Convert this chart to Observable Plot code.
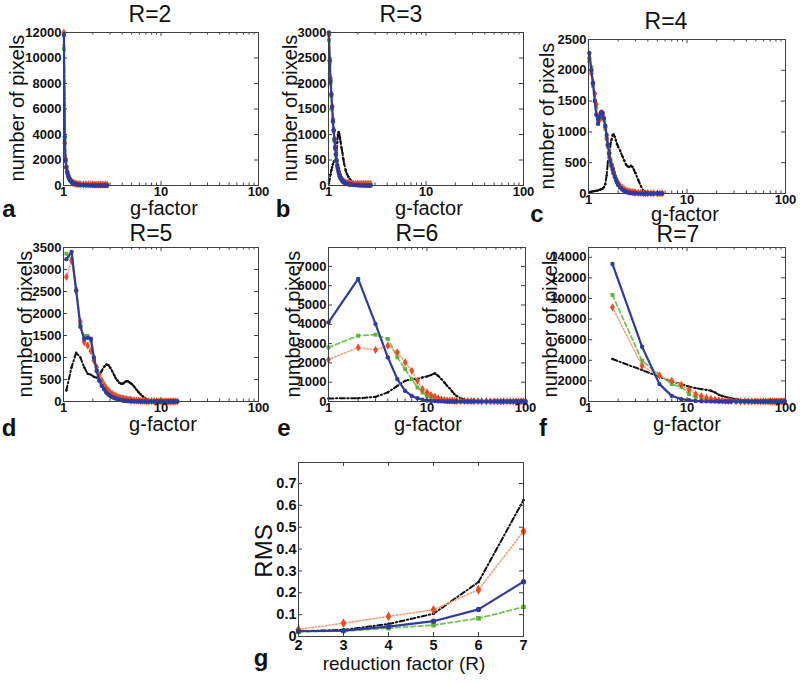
<!DOCTYPE html>
<html>
<head>
<meta charset="utf-8">
<script src="https://cdn.jsdelivr.net/npm/d3@7"></script>
<script src="https://cdn.jsdelivr.net/npm/@observablehq/plot@0.6"></script>
<style>
html,body{margin:0;padding:0;background:#fff;}
#wrap{position:relative;width:800px;height:682px;overflow:hidden;background:#fff;font-family:"Liberation Sans",Arial,Helvetica,sans-serif;color:#111;}
#wrap svg{position:absolute;}
.t{position:absolute;white-space:nowrap;line-height:0.85;color:#111;}
</style>
</head>
<body>
<div id="wrap"></div>
<script>
// ---------------- DATA ----------------
// R=2
const x2 = [1.01,1.03,1.05,1.07,1.09,1.11,1.13,1.15,1.17,1.19,1.22,1.25,1.28,1.31,1.35,1.4,1.45,1.5,1.6,1.7,1.8,1.9,2.0,2.1,2.2,2.3,2.4,2.5,2.6,2.7,2.8];
const black2 = [11000,3600,1900,1380,1030,830,640,510,410,340,260,200,160,130,100,80,60,45,30,20,14,9,6,4,2,1,1,0,0,0,0];
const green2 = [10700,3500,2000,1450,1080,860,660,530,430,350,270,215,175,145,115,90,70,55,40,30,22,16,11,8,5,3,2,1,1,0,0];
const red2 = [12000,3300,2100,1500,1100,880,680,540,440,360,280,220,180,150,125,110,100,95,90,85,85,80,80,75,75,70,70,65,65,60,60];
const blue2 = [11800,3800,1950,1400,1050,850,650,520,420,350,270,210,170,140,110,85,65,50,35,25,18,12,8,5,3,2,1,1,0,0,0];
// R=3
const x3 = [1.01,1.03,1.05,1.07,1.09,1.11,1.13,1.15,1.17,1.19,1.21,1.23,1.25,1.27,1.29,1.31,1.33,1.36,1.39,1.42,1.45,1.5,1.55,1.6,1.65,1.7,1.8,1.9,2.0,2.1,2.2,2.3,2.4,2.5,2.6,2.7];
const black3 = [40,130,220,300,360,420,460,480,490,520,650,850,1000,1050,1010,940,860,740,640,520,420,300,220,170,130,95,55,30,18,10,6,3,2,1,0,0];
const green3 = [2850,2400,2000,1750,1500,1250,1060,880,720,590,470,380,320,260,210,170,140,110,90,75,60,45,35,28,22,17,12,8,6,4,3,2,1,0,0,0];
const red3 = [2950,2450,2100,1800,1560,1300,1100,920,760,620,500,400,335,275,225,185,155,125,100,85,70,58,50,45,42,40,38,36,35,34,33,32,32,31,30,30];
const blue3 = [3000,2450,2050,1780,1540,1260,1080,900,740,610,490,390,330,270,220,180,150,120,95,80,65,50,40,32,25,20,14,10,7,5,3,2,1,1,0,0];
// R=4
const x4 = [1.02,1.07,1.11,1.16,1.2,1.25,1.3,1.34,1.39,1.43,1.48,1.53,1.57,1.62,1.66,1.71,1.76,1.8,1.85,1.9,1.95,2.0,2.1,2.2,2.3,2.4,2.5,2.6,2.7,2.8,2.9,3.0,3.2,3.4,3.6,3.8,4.0,4.3,4.6,5.0,5.3,5.6];
const black4 = [20,30,35,40,45,50,60,70,80,100,150,300,500,650,760,870,950,960,920,860,800,760,690,610,540,470,440,430,450,430,380,330,220,120,50,15,5,0,0,0,0,0];
const green4 = [2150,2050,1750,1500,1400,1200,1220,1290,1280,1200,1050,880,760,640,540,460,390,330,270,225,185,150,105,75,52,36,26,18,13,9,7,5,3,2,1,1,0,0,0,0,0,0];
const red4 = [2200,1950,1800,1620,1450,1250,1200,1310,1300,1230,1080,900,780,660,560,480,410,350,290,240,200,165,120,90,65,50,40,32,26,22,18,15,12,10,8,6,5,4,3,2,2,1];
const blue4 = [2280,2000,1790,1500,1280,1130,1250,1320,1310,1220,1100,950,800,650,530,450,390,330,270,220,180,140,95,65,45,30,20,14,10,7,5,4,2,1,1,0,0,0,0,0,0,0];
// R=5
const x5 = [1.07,1.21,1.35,1.49,1.63,1.77,1.91,2.05,2.19,2.33,2.47,2.61,2.75,2.89,3.03,3.17,3.31,3.45,3.59,3.73,3.87,4.01,4.15,4.29,4.43,4.57,4.71,4.85,5.0,5.3,5.6,5.9,6.2,6.5,6.8,7.1,7.5,8.0,8.5,9.0,9.5,10,10.5,11,11.5,12,12.5,13,13.5,14,14.7];
const black5 = [250,780,1110,1000,780,630,610,560,540,600,700,790,840,830,760,680,600,520,470,430,410,400,420,450,460,460,440,420,400,340,270,210,160,120,80,50,25,10,5,3,1,0,0,0,0,0,0,0,0,0,0];
const green5 = [3360,3240,2550,1760,1490,1490,1380,960,690,480,360,280,210,165,130,105,88,72,58,47,38,31,25,20,16,13,10,8,6,5,4,3,2,2,1,1,0,0,0,0,0,0,0,0,0,0,0,0,0,0,0];
const red5 = [2830,3200,2520,1820,1350,1270,1150,930,780,600,480,380,300,245,200,165,140,120,100,88,76,68,60,54,48,44,40,36,33,28,24,20,17,15,13,11,9,7,6,5,4,4,3,3,2,2,2,1,1,1,1];
const blue5 = [3235,3400,2515,1700,1420,1450,1430,1000,700,470,356,280,205,160,125,100,85,70,55,45,36,30,25,20,16,13,11,9,7,5,4,3,2,2,1,1,1,0,0,0,0,0,0,0,0,0,0,0,0,0,0];
// R=6
const x6 = [1,2,3,4,5,6,7,8,9,10,11,12,13,14,15,16,17,18,19,20,22,24,26,28,30,33,36,40,44,48,52,56,60,65,70,75,80,85,90,95,100];
const black6 = [160,170,240,470,810,1070,1160,1160,1250,1300,1370,1460,1330,1160,990,810,680,520,380,290,170,110,70,40,35,20,12,5,2,0,0,0,0,0,0,0,0,0,0,0,0];
const green6 = [2800,3410,3460,3240,2290,1680,1160,730,470,290,180,120,80,50,30,20,14,10,7,5,3,2,1,1,0,0,0,0,0,0,0,0,0,0,0,0,0,0,0,0,0];
const red6 = [2170,2800,2670,2890,2550,2030,1590,1070,640,470,330,240,160,110,75,55,45,40,35,30,28,25,22,20,18,15,12,10,8,6,5,4,3,3,2,2,1,1,1,1,1];
const blue6 = [4100,6350,4020,2290,1160,550,290,170,90,50,30,20,12,8,5,3,2,1,1,0,0,0,0,0,0,0,0,0,0,0,0,0,0,0,0,0,0,0,0,0,0];
// R=7
const x7 = [1.75,3.5,5.25,7,8.75,10.5,12.25,14,15.75,17.5,19.25,21,22.75,24.5,26.25,28,31.5,35,38.5,42,45.5,49,52.5,56,59.5,63,66.5,70,73.5,77,80.5,84,87.5,91,94.5,98];
const black7 = [4120,3050,2400,1940,1690,1430,1300,1200,1130,1040,880,650,550,450,380,320,230,160,120,95,70,50,32,20,12,8,4,2,1,0,0,0,0,0,0,0];
const green7 = [10340,3950,2590,1690,1430,710,450,290,200,130,90,60,45,30,22,15,10,5,3,1,0,0,0,0,0,0,0,0,0,0,0,0,0,0,0,0];
const red7 = [9140,3470,2500,2010,1620,1130,710,520,360,260,180,130,100,70,55,40,30,20,15,10,8,6,5,4,3,3,2,2,2,2,1,1,1,1,1,1];
const blue7 = [13350,5310,1690,550,230,130,60,30,15,8,4,2,1,0,0,0,0,0,0,0,0,0,0,0,0,0,0,0,0,0,0,0,0,0,0,0];
// RMS vs reduction factor
const rFactor = [2,3,4,5,6,7];
const rmsBlack = [0.024,0.030,0.057,0.104,0.249,0.624];
const rmsGreen = [0.022,0.025,0.038,0.052,0.083,0.135];
const rmsRed = [0.032,0.061,0.092,0.122,0.214,0.481];
const rmsBlue = [0.024,0.027,0.045,0.070,0.124,0.251];
// ticks
const logMajor = [1,10,100];
const logMinor = [2,3,4,5,6,7,8,9,20,30,40,50,60,70,80,90];
const yTicks2 = [0,2000,4000,6000,8000,10000,12000];
const yTicks3 = [0,500,1000,1500,2000,2500,3000];
const yTicks4 = [0,500,1000,1500,2000,2500];
const yTicks5 = [0,500,1000,1500,2000,2500,3000,3500];
const yTicks6 = [0,1000,2000,3000,4000,5000,6000,7000];
const yTicks7 = [0,2000,4000,6000,8000,10000,12000,14000];
const rmsTicks = [0,0.1,0.2,0.3,0.4,0.5,0.6,0.7];
const titles = ["R=2","R=3","R=4","R=5","R=6","R=7"];
const letters = ["a","b","c","d","e","f","g"];

// ---------------- DRAW ----------------
const FONT = '"Liberation Sans", Arial, Helvetica, sans-serif';
const wrap = document.getElementById("wrap");
const STY = {
  black: {line:"#111111", dash:"5,2.5,1.3,2.5", width:2, mark:"#111111", symbol:"circle", r:1.2},
  green: {line:"#74c453", dash:"4.5,3", width:1.8, mark:"#5cb53a", symbol:"square", r:2.2},
  red:   {line:"#f3a07c", dash:"1.4,2", width:1.6, mark:"#ec4a22", symbol:"diamond", r:2.5},
  blue:  {line:"#2f3c9e", dash:null, width:2.2, mark:"#2f3c9e", symbol:"circle", r:2.2}
};
const FRAME = "#404040";

function panel(cfg) {
  const [x0, x1, y0, y1] = cfg.box;
  const mL = 60, mR = 20, mT = 12, mB = 26;
  const iw = x1 - x0, ih = y1 - y0;
  const marks = [];
  for (const key of ["black","green","red","blue"]) {
    const ys = cfg.series[key];
    const rows = cfg.xs.map((x, i) => ({x, y: ys[i]}));
    const s = STY[key];
    const lo = {x:"x", y:"y", stroke:s.line, strokeWidth:s.width};
    if (s.dash) lo.strokeDasharray = s.dash;
    marks.push(Plot.line(rows, lo));
    marks.push(Plot.dot(rows, {x:"x", y:"y", fill:s.mark, r: cfg.rScale ? s.r*cfg.rScale : s.r, symbol:s.symbol, stroke:"none"}));
  }
  marks.push(Plot.frame({stroke:FRAME, strokeWidth:1}));
  marks.push(Plot.tickX(cfg.xMajor, {x:d=>d, insetTop: ih-4, stroke:FRAME}));
  marks.push(Plot.tickX(cfg.xMajor, {x:d=>d, insetBottom: ih-4, stroke:FRAME}));
  if (cfg.xMinor) {
    marks.push(Plot.tickX(cfg.xMinor, {x:d=>d, insetTop: ih-2.5, stroke:FRAME}));
    marks.push(Plot.tickX(cfg.xMinor, {x:d=>d, insetBottom: ih-2.5, stroke:FRAME}));
  }
  marks.push(Plot.tickY(cfg.yTicks, {y:d=>d, insetRight: iw-4, stroke:FRAME}));
  marks.push(Plot.tickY(cfg.yTicks, {y:d=>d, insetLeft: iw-4, stroke:FRAME}));
  marks.push(Plot.text(cfg.yTicks, {x:()=>cfg.xDomain[0], y:d=>d, text: cfg.yFmt || (d=>String(d)),
    textAnchor:"end", dx:-2, fontSize:cfg.fs, fontWeight:"bold", fontFamily:FONT, fill:"#111"}));
  marks.push(Plot.text(cfg.xMajor, {x:d=>d, y:()=>cfg.yDomain[0], text:d=>String(d),
    dy:cfg.xdy, fontSize:cfg.fs, fontWeight:"bold", fontFamily:FONT, fill:"#111"}));
  const svg = Plot.plot({
    width: iw+mL+mR, height: ih+mT+mB,
    marginLeft:mL, marginRight:mR, marginTop:mT, marginBottom:mB,
    x: {type: cfg.xType, domain: cfg.xDomain, axis: null},
    y: {type: "linear", domain: cfg.yDomain, axis: null},
    style: {background:"transparent", overflow:"visible", fontFamily:FONT},
    marks
  });
  svg.style.position = "absolute";
  svg.style.left = (x0 - mL) + "px";
  svg.style.top = (y0 - mT) + "px";
  wrap.appendChild(svg);
}

const hist = [
  {xs:x2, series:{black:black2, green:green2, red:red2, blue:blue2}, box:[63,258,32,185], yDomain:[0,12000], yTicks:yTicks2},
  {xs:x3, series:{black:black3, green:green3, red:red3, blue:blue3}, box:[328,523,32,185], yDomain:[0,3000], yTicks:yTicks3},
  {xs:x4, series:{black:black4, green:green4, red:red4, blue:blue4}, box:[588,785,39,193], yDomain:[0,2500], yTicks:yTicks4},
  {xs:x5, series:{black:black5, green:green5, red:red5, blue:blue5}, box:[63,258,247,401], yDomain:[0,3500], yTicks:yTicks5},
  {xs:x6, series:{black:black6, green:green6, red:red6, blue:blue6}, box:[328,525,247,401], yDomain:[0,7980], yTicks:yTicks6},
  {xs:x7, series:{black:black7, green:green7, red:red7, blue:blue7}, box:[588,785,247,401], yDomain:[0,14950], yTicks:yTicks7}
];
for (const h of hist) {
  panel({...h, xType:"log", xDomain:[1,100], xMajor:logMajor, xMinor:logMinor, fs:13, xdy:6});
}
panel({xs:rFactor, series:{black:rmsBlack, green:rmsGreen, red:rmsRed, blue:rmsBlue}, box:[298,523,462,636],
  xType:"linear", xDomain:[2,7], yDomain:[0,0.796], yTicks:rmsTicks, xMajor:rFactor, xMinor:null,
  fs:14.5, xdy:9, rScale:1.2, yFmt:d => d === 0 ? "0" : d.toFixed(1)});

function label(text, x, y, size, opts = {}) {
  const d = document.createElement("div");
  d.className = "t";
  d.textContent = text;
  d.style.left = x + "px";
  d.style.top = y + "px";
  d.style.fontSize = size + "px";
  d.style.fontWeight = opts.bold ? "bold" : "normal";
  d.style.transform = "translate(-50%,-50%)" + (opts.rotate ? " rotate(-90deg)" : "");
  wrap.appendChild(d);
}
const titlePos = [[150,15],[401,15],[666,22],[151,234],[417,234],[678,235]];
titles.forEach((t, i) => label(t, titlePos[i][0], titlePos[i][1], 23));
const yLabPos = [[17,108],[290,108],[547,116],[25,324],[293,324],[550,324]];
yLabPos.forEach(p => label("number of pixels", p[0], p[1], 20, {rotate:true}));
const xLabPos = [[164,208],[429,208],[685,214],[163,424],[428,424],[687,424]];
xLabPos.forEach(p => label("g-factor", p[0], p[1], 20));
const letterPos = [[9,209],[283,209],[537,214],[9,428],[284,428],[543,428],[261,658]];
letters.forEach((t, i) => label(t, letterPos[i][0], letterPos[i][1], 24, {bold:true}));
label("RMS", 264, 551, 24, {rotate:true});
label("reduction factor (R)", 404, 664, 19);
</script>
</body>
</html>
